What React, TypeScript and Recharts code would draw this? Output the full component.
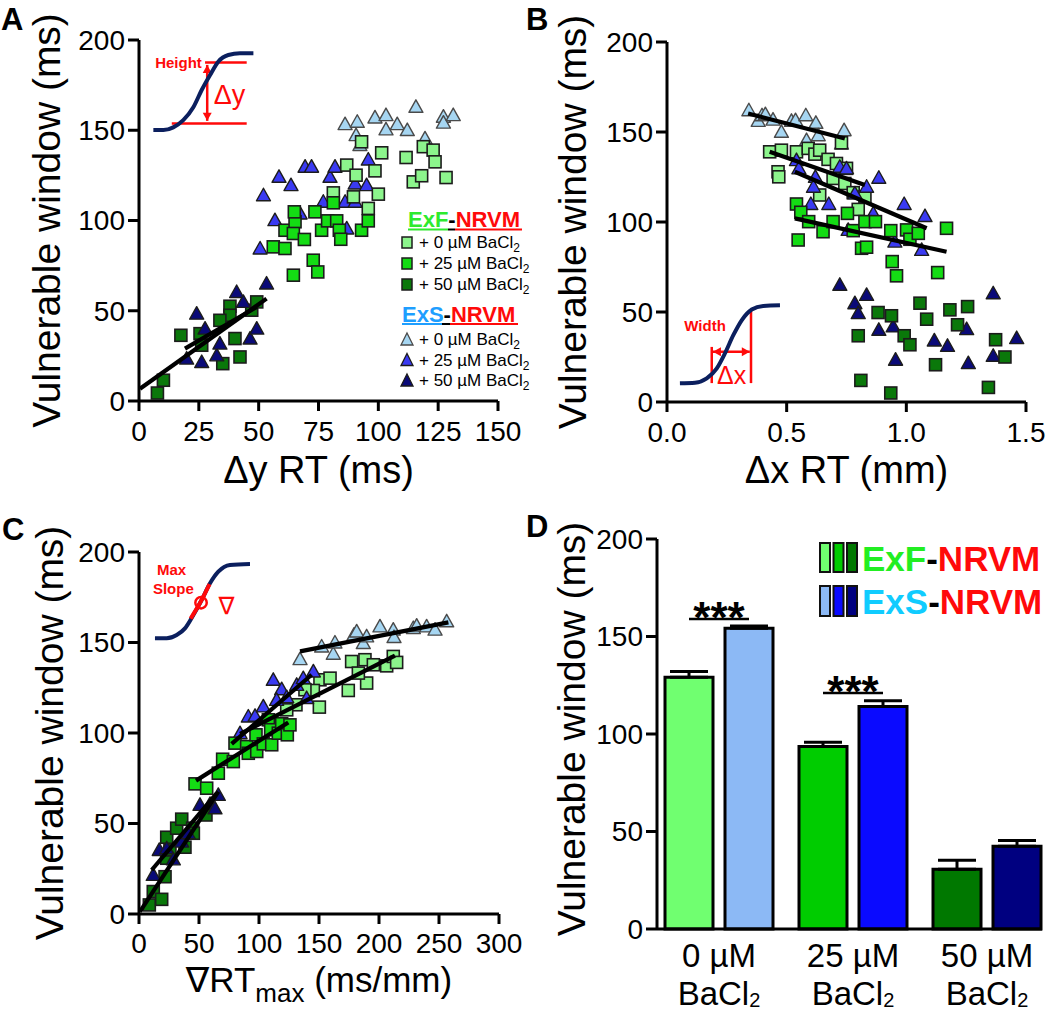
import React from 'react';
import {
  ScatterChart, Scatter, XAxis, YAxis, ReferenceLine, ReferenceDot,
  BarChart, Bar, ErrorBar, Cell, LabelList,
} from 'recharts';

const FONT = '"Liberation Sans", Arial, "DejaVu Sans", sans-serif';
type P = [number, number];

// ---------- colours ----------
const SQ_EXF0 = '#8CF58C';
const SQ_EXF25 = '#14DC14';
const SQ_EXF50 = '#0A780A';
const TR_EXS0 = '#A6D6F2';
const TR_EXS25 = '#3A3AF2';
const TR_EXS50 = '#0A0A78';
const BAR_EXF = ['#70FF70', '#00CC00', '#007800'];
const BAR_EXS = ['#8CB9F5', '#0A0AFF', '#000080'];
const CURVE = '#0B1F5E';
const RED = '#FF0A0A';

// ---------- panel A: vulnerable window vs Δy RT ----------
const aExS0: P[] = [[86.1,153.4],[91.2,154.7],[90.7,147.3],[92.3,141.8],[98.6,157.1],[103.2,158.4],[103.2,150.5],[107.9,153.4],[112.1,150.1],[115.7,163.0],[119.5,145.5],[127.2,157.5],[127.2,154.2],[131.3,158.4]];
const aExS25: P[] = [[52.0,114.0],[58.5,124.2],[63.5,119.6],[56.8,100.2],[50.6,84.5],[69.4,129.8],[72.1,129.8],[79.8,124.2],[81.9,129.8],[90.3,120.5],[95.8,133.8],[95.1,119.6],[86.1,110.4],[90.3,110.4],[86.8,95.6],[77.0,110.4],[67.3,103.9]];
const aExS50: P[] = [[24.1,48.4],[19.9,23.5],[26.2,21.6],[27.6,40.1],[32.5,25.3],[33.8,31.8],[40.8,60.4],[43.6,54.9],[46.4,34.6],[49.2,40.1],[53.3,65.1]];
const aExF0: P[] = [[93.0,143.6],[86.8,130.7],[90.7,125.1],[98.6,127.5],[101.4,137.5],[100.0,114.6],[95.8,106.7],[81.2,115.3],[111.6,134.9],[114.6,121.4],[118.1,124.8],[118.8,140.9],[122.9,139.0],[123.7,132.5],[128.3,123.8],[89.6,113.1]];
const aExF25: P[] = [[56.1,85.4],[61.0,84.5],[61.0,94.6],[65.2,99.3],[64.9,104.8],[64.5,92.8],[69.1,89.5],[64.5,69.7],[72.8,78.0],[74.7,71.5],[73.5,104.8],[76.3,94.6],[78.8,99.8],[81.2,109.8],[82.6,99.8],[83.7,94.6],[84.3,89.6],[93.0,94.6],[95.8,99.8]];
const aExF50: P[] = [[7.7,4.4],[10.2,11.5],[17.5,36.4],[25.5,37.3],[26.2,30.9],[38.0,52.5],[38.0,47.5],[40.1,34.6],[42.2,24.4],[35.0,20.7],[47.1,50.3],[49.2,54.9],[33.8,44.7]];
const aFits: P[][] = [[[0.4,6.8],[53.3,56.7]], [[19.2,29.0],[49.2,52.1]]];
const aInsetCurve: P[] = [[6.0,150.1],[10.2,150.1],[14.3,151.6],[18.5,155.6],[22.7,162.7],[26.2,172.3],[29.7,180.6],[33.1,188.0],[37.3,191.7],[42.2,192.6],[47.8,192.6]];
const aInsetLines: P[][] = [[[27.6,187.6],[45.0,187.6]], [[13.7,153.8],[45.0,153.8]]];
const aInsetArrow: P[] = [[28.5,186.2],[28.5,155.2]];

// ---------- panel B: vulnerable window vs Δx RT ----------
const bExS0: P[] = [[0.342,162.1],[0.381,156.2],[0.397,159.3],[0.411,159.9],[0.443,156.9],[0.478,150.1],[0.520,156.2],[0.537,156.6],[0.580,159.3],[0.622,155.1],[0.632,148.2],[0.583,145.5],[0.740,151.0],[0.729,143.6]];
const bExS25: P[] = [[0.541,134.4],[0.551,129.8],[0.620,125.1],[0.612,119.6],[0.601,110.0],[0.676,110.0],[0.722,130.7],[0.750,129.8],[0.785,115.9],[0.834,119.6],[0.862,104.8],[0.885,124.6],[0.991,110.0],[1.078,103.3],[0.952,89.1],[1.064,84.5],[0.757,95.6]];
const bExS50: P[] = [[0.722,65.1],[0.785,54.9],[0.799,49.4],[0.834,59.5],[0.885,40.1],[0.945,42.0],[0.955,23.5],[1.117,34.2],[1.172,31.2],[1.252,40.5],[1.259,21.6],[1.363,60.4],[1.363,25.7],[1.461,35.5]];
const bExF0: P[] = [[0.429,139.0],[0.464,127.9],[0.467,125.1],[0.478,139.9],[0.541,139.0],[0.590,140.9],[0.618,137.7],[0.638,139.9],[0.673,134.8],[0.708,132.5],[0.750,129.8],[0.694,124.2],[0.743,121.4],[0.778,116.3],[0.827,114.0],[0.638,115.0],[0.799,107.0],[0.729,144.0]];
const bExF25: P[] = [[0.541,110.0],[0.559,105.4],[0.548,90.0],[0.592,100.2],[0.652,94.6],[0.694,100.2],[0.754,104.8],[0.778,95.2],[0.813,85.4],[0.834,86.0],[0.827,100.2],[0.871,100.2],[0.935,95.2],[1.001,95.6],[1.015,90.4],[1.050,93.7],[1.168,96.5],[0.941,78.0],[0.959,70.1],[1.131,71.9]];
const bExF50: P[] = [[0.799,36.8],[0.810,12.0],[0.882,49.7],[0.938,47.9],[0.991,36.8],[1.015,31.8],[1.057,54.9],[1.085,46.0],[1.122,20.7],[1.182,51.2],[1.214,42.9],[1.256,53.0],[1.343,8.1],[1.373,34.6],[1.412,25.0],[0.935,5.0]];
const bFits: P[][] = [[[0.339,160.3],[0.743,146.4]], [[0.429,139.0],[0.827,120.5]], [[0.534,127.9],[1.085,96.5]], [[0.534,102.0],[1.168,83.5]]];
const bInsetCurve: P[] = [[0.054,10.4],[0.117,10.7],[0.166,13.1],[0.208,18.7],[0.242,27.0],[0.277,37.1],[0.312,45.4],[0.354,51.4],[0.402,53.4],[0.472,53.7]];
const bInsetLines: P[][] = [[[0.187,10.5],[0.187,30.6]], [[0.351,10.5],[0.351,51.0]]];
const bInsetArrow: P[] = [[0.192,27.9],[0.346,27.9]];
const bXTicks = [0, 0.5, 1.0, 1.5];

// ---------- panel C: vulnerable window vs max gradient ----------
const cExS0: P[] = [[134.2,140.8],[152.2,147.8],[161.9,143.8],[163.3,150.0],[179.2,154.3],[181.4,156.1],[186.9,149.7],[189.7,153.4],[200.8,158.9],[211.9,157.1],[212.5,153.0],[228.6,158.0],[231.4,159.3],[239.7,158.9],[246.7,157.1],[256.4,161.7]];
const cExS25: P[] = [[84.2,99.9],[91.1,109.1],[96.7,109.5],[103.6,114.7],[111.9,129.4],[118.9,124.2],[114.7,118.3],[123.1,119.8],[131.4,126.6],[136.9,130.3],[145.3,134.0],[139.7,119.3]];
const cExS50: P[] = [[11.9,21.6],[16.9,35.4],[23.1,36.3],[28.6,30.2],[35.6,40.0],[41.1,44.6],[50.8,60.3],[59.2,60.8],[63.3,58.4],[66.1,65.8]];
const cExF0: P[] = [[174.4,123.5],[177.2,139.5],[188.3,140.5],[189.7,127.6],[195.3,137.7],[206.4,137.1],[211.9,142.3],[214.7,139.0],[150.8,129.4],[159.2,130.3],[150.3,114.3],[145.3,123.5],[138.3,123.9],[130.8,115.6],[123.1,112.8],[182.8,133.1]];
const cExF25: P[] = [[46.7,71.9],[56.4,69.5],[66.1,77.8],[69.7,85.5],[78.6,84.2],[80.0,94.4],[89.7,92.5],[91.1,88.8],[98.1,89.8],[97.5,99.0],[103.6,94.0],[107.8,107.3],[109.7,101.8],[110.6,93.5],[116.1,99.9],[118.9,105.1],[123.6,99.0],[125.8,104.5]];
const cExF50: P[] = [[8.6,5.0],[11.9,12.4],[18.9,8.1],[21.7,20.6],[23.1,42.4],[23.1,30.8],[25.8,35.4],[31.4,47.4],[35.6,52.4],[38.3,36.9],[44.7,47.4],[45.3,44.6],[55.8,54.7]];
const cFits: P[][] = [[[0.8,1.3],[66.1,67.6]], [[10.6,24.3],[64.7,66.7]], [[47.5,73.7],[124.4,105.8]], [[77.2,94.0],[143.9,132.2]], [[84.2,99.5],[213.3,142.7]], [[134.2,145.1],[257.8,161.1]]];
const cInsetCurve: P[] = [[13.3,152.3],[23.1,152.3],[31.4,154.1],[38.3,157.8],[45.3,165.2],[52.2,173.5],[59.2,182.7],[66.1,189.1],[75.8,192.8],[92.5,193.4]];
const cInsetRed: P[] = [[43.0,163.2],[52.2,173.5],[58.8,182.2]];
const cInsetDot: P = [51.7, 172.0];

// ---------- panel D: bar chart ----------
const dCats = ['0 µM', '25 µM', '50 µM'];
const dExfMean = [129.1, 93.6, 30.7];
const dExfErr = [2.9, 2.2, 4.5];
const dExsMean = [154.2, 114.1, 42.4];
const dExsErr = [1.2, 2.9, 3.0];
const dSig: (number | null)[] = [159, 121, null];

const Y_TICKS = [0, 50, 100, 150, 200];
const axisStyle = { stroke: '#000', strokeWidth: 3 };
const tickStyle = { fontSize: 28, fill: '#000', fontFamily: FONT };

const toXY = (d: P[]) => d.map(([x, y]) => ({ x, y }));

const sqShape = (fill: string) => (p: any) => (
  <rect x={p.cx - 6} y={p.cy - 6} width={12} height={12} fill={fill} stroke="#1c1c1c" strokeWidth={1.6} />
);
const triShape = (fill: string, stroke = '#1c1c1c') => (p: any) => (
  <polygon
    points={`${p.cx},${p.cy - 7} ${p.cx + 7},${p.cy + 5.5} ${p.cx - 7},${p.cy + 5.5}`}
    fill={fill} stroke={stroke} strokeWidth={1.4} strokeLinejoin="round"
  />
);
const noShape = () => <g />;

const arrowShape = (p: any) => {
  const x1 = Number(p.x1), y1 = Number(p.y1), x2 = Number(p.x2), y2 = Number(p.y2);
  const a = Math.atan2(y2 - y1, x2 - x1);
  const L = 8, W = 4.5;
  const head = (x: number, y: number, ang: number) => {
    const bx = x - L * Math.cos(ang), by = y - L * Math.sin(ang);
    return `${x},${y} ${bx - W * Math.sin(ang)},${by + W * Math.cos(ang)} ${bx + W * Math.sin(ang)},${by - W * Math.cos(ang)}`;
  };
  return (
    <g>
      <line x1={x1} y1={y1} x2={x2} y2={y2} stroke={RED} strokeWidth={2.5} />
      <polygon points={head(x2, y2, a)} fill={RED} />
      <polygon points={head(x1, y1, a + Math.PI)} fill={RED} />
    </g>
  );
};

const fitShape = (p: any) => (
  <line x1={p.x1} y1={p.y1} x2={p.x2} y2={p.y2} stroke="#000" strokeWidth={4.2} strokeLinecap="butt" />
);

const textShape = (txt: string, size: number, bold = false) => (p: any) => (
  <text x={p.cx} y={p.cy} textAnchor="middle" dominantBaseline="central" fontSize={size}
    fontWeight={bold ? 'bold' : 'normal'} fill={RED} fontFamily={FONT}>{txt}</text>
);

const yTitle = (bx: number, dy = 0) => (props: any) => {
  const vb = props.viewBox || {};
  const cy = vb.y + vb.height / 2 + dy;
  return (
    <text x={bx} y={cy} transform={`rotate(-90 ${bx} ${cy})`} textAnchor="middle" fontSize={39}
      fill="#000" fontFamily={FONT}>Vulnerable window (ms)</text>
  );
};

const xTitle = (content: React.ReactNode, off: number, size = 38) => (props: any) => {
  const vb = props.viewBox || {};
  return (
    <text x={vb.x + vb.width / 2} y={vb.y + off} textAnchor="middle" fontSize={size} fill="#000"
      fontFamily={FONT}>{content}</text>
  );
};

type Ser = { d: P[]; shape: any; key: string };

const renderSeries = (list: Ser[]) =>
  list.map((s) => (
    <Scatter key={s.key} data={toXY(s.d)} shape={s.shape} isAnimationActive={false} />
  ));

const renderFits = (fits: P[][], prefix: string) =>
  fits.map((f, i) => (
    <ReferenceLine key={`${prefix}${i}`} segment={[{ x: f[0][0], y: f[0][1] }, { x: f[1][0], y: f[1][1] }]}
      stroke="#000" strokeWidth={4.2} shape={fitShape} zIndex={1000} />
  ));

const curveSeries = (d: P[], key: string, color: string, w = 4) => (
  <Scatter key={key} data={toXY(d)} shape={noShape} line={{ stroke: color, strokeWidth: w }}
    lineJointType="monotoneX" isAnimationActive={false} />
);

const yAxisEl = (bx: number) => (
  <YAxis type="number" dataKey="y" domain={[0, 200]} ticks={Y_TICKS} width={100} interval={0}
    axisLine={axisStyle} tickLine={axisStyle} tick={tickStyle} tickSize={11} tickMargin={3}
    label={yTitle(bx)} />
);

function PanelA() {
  return (
    <ScatterChart width={525} height={500} margin={{ top: 40, right: 27, bottom: 0, left: 39 }}>
      <XAxis type="number" dataKey="x" domain={[0, 150]} ticks={[0, 25, 50, 75, 100, 125, 150]} height={99}
        interval={0} axisLine={axisStyle} tickLine={axisStyle} tick={tickStyle} tickSize={10} tickMargin={10}
        label={xTitle('Δy RT (ms)', 82)} />
      {yAxisEl(60)}
      {curveSeries(aInsetCurve, 'ac', CURVE)}
      {aInsetLines.map((l, i) => (
        <ReferenceLine key={`al${i}`} segment={[{ x: l[0][0], y: l[0][1] }, { x: l[1][0], y: l[1][1] }]} stroke={RED} strokeWidth={2.5} />
      ))}
      <ReferenceLine segment={[{ x: aInsetArrow[0][0], y: aInsetArrow[0][1] }, { x: aInsetArrow[1][0], y: aInsetArrow[1][1] }]} shape={arrowShape} stroke={RED} />
      <ReferenceDot x={16.5} y={187.3} r={0} shape={textShape('Height', 15, true)} />
      <ReferenceDot x={37.8} y={169.5} r={0} shape={textShape('Δy', 27)} />
      {renderSeries([
        { d: aExS0, shape: triShape(TR_EXS0, '#4a4a4a'), key: 's0' },
        { d: aExS25, shape: triShape(TR_EXS25), key: 's25' },
        { d: aExF0, shape: sqShape(SQ_EXF0), key: 'f0' },
        { d: aExF25, shape: sqShape(SQ_EXF25), key: 'f25' },
        { d: aExF50, shape: sqShape(SQ_EXF50), key: 'f50' },
        { d: aExS50, shape: triShape(TR_EXS50), key: 's50' },
      ])}
      {renderFits(aFits, 'af')}
    </ScatterChart>
  );
}

function PanelB() {
  return (
    <ScatterChart width={525} height={500} margin={{ top: 42, right: 24, bottom: 0, left: 42 }}>
      <XAxis type="number" dataKey="x" domain={[0, 1.5]} ticks={bXTicks} height={98} interval={0}
        tickFormatter={(v: number) => v.toFixed(1)}
        axisLine={axisStyle} tickLine={axisStyle} tick={tickStyle} tickSize={10} tickMargin={10}
        label={xTitle('Δx RT (mm)', 81)} />
      {yAxisEl(61)}
      {curveSeries(bInsetCurve, 'bc', CURVE)}
      {bInsetLines.map((l, i) => (
        <ReferenceLine key={`bl${i}`} segment={[{ x: l[0][0], y: l[0][1] }, { x: l[1][0], y: l[1][1] }]} stroke={RED} strokeWidth={2.5} />
      ))}
      <ReferenceLine segment={[{ x: bInsetArrow[0][0], y: bInsetArrow[0][1] }, { x: bInsetArrow[1][0], y: bInsetArrow[1][1] }]} shape={arrowShape} stroke={RED} />
      <ReferenceDot x={0.159} y={42.7} r={0} shape={textShape('Width', 15, true)} />
      <ReferenceDot x={0.270} y={15.0} r={0} shape={textShape('Δx', 25)} />
      {renderSeries([
        { d: bExS0, shape: triShape(TR_EXS0, '#4a4a4a'), key: 's0' },
        { d: bExF0, shape: sqShape(SQ_EXF0), key: 'f0' },
        { d: bExS25, shape: triShape(TR_EXS25), key: 's25' },
        { d: bExF25, shape: sqShape(SQ_EXF25), key: 'f25' },
        { d: bExS50, shape: triShape(TR_EXS50), key: 's50' },
        { d: bExF50, shape: sqShape(SQ_EXF50), key: 'f50' },
      ])}
      {renderFits(bFits, 'bf')}
    </ScatterChart>
  );
}

function PanelC() {
  const title = (
    <>
      <tspan>∇RT</tspan>
      <tspan fontSize={26} dy={10}>max</tspan>
      <tspan dy={-10}> (ms/mm)</tspan>
    </>
  );
  return (
    <ScatterChart width={525} height={511} margin={{ top: 52, right: 26, bottom: 0, left: 39 }}>
      <XAxis type="number" dataKey="x" domain={[0, 300]} ticks={[0, 50, 100, 150, 200, 250, 300]} height={97}
        interval={0} axisLine={axisStyle} tickLine={axisStyle} tick={tickStyle} tickSize={10} tickMargin={9}
        label={xTitle(title, 78, 35)} />
      {yAxisEl(63)}
      {curveSeries(cInsetCurve, 'cc', CURVE)}
      {curveSeries(cInsetRed, 'cr', RED, 4)}
      <ReferenceDot x={cInsetDot[0]} y={cInsetDot[1]} r={5.7} fill="none" stroke={RED} strokeWidth={2.5} />
      <ReferenceDot x={27.2} y={190.4} r={0} shape={textShape('Max', 15, true)} />
      <ReferenceDot x={28.6} y={180.0} r={0} shape={textShape('Slope', 15, true)} />
      <ReferenceDot x={73.0} y={170.7} r={0} shape={textShape('∇', 24)} />
      {renderSeries([
        { d: cExS0, shape: triShape(TR_EXS0, '#4a4a4a'), key: 's0' },
        { d: cExF0, shape: sqShape(SQ_EXF0), key: 'f0' },
        { d: cExS25, shape: triShape(TR_EXS25), key: 's25' },
        { d: cExF25, shape: sqShape(SQ_EXF25), key: 'f25' },
        { d: cExF50, shape: sqShape(SQ_EXF50), key: 'f50' },
        { d: cExS50, shape: triShape(TR_EXS50), key: 's50' },
      ])}
      {renderFits(cFits, 'cf')}
    </ScatterChart>
  );
}

const dRows = dCats.map((cat, i) => ({
  cat,
  exf: dExfMean[i],
  exs: dExsMean[i],
  exfErr: [0, dExfErr[i]],
  exsErr: [0, dExsErr[i]],
}));

const DTick = (props: any) => {
  const { x, y, payload } = props;
  return (
    <g>
      <text x={x} y={y + 38} textAnchor="middle" fontSize={33} fontFamily={FONT} fill="#000">{payload.value}</text>
      <text x={x} y={y + 76} textAnchor="middle" fontSize={33} fontFamily={FONT} fill="#000">
        BaCl<tspan fontSize={20} dy={2}>2</tspan>
      </text>
    </g>
  );
};

const BAR_GAP = 12;
const sigContent = (props: any) => {
  const i = props.index;
  const s = dSig[i];
  if (s == null) return null;
  const vb = props.viewBox || {};
  const x = Number(vb.x ?? props.x), y = Number(vb.y ?? props.y);
  const w = Number(vb.width ?? props.width), h = Number(vb.height ?? props.height);
  const v = dExsMean[i];
  const k = h / v;
  const ly = y + h - s * k;
  const x1 = x - BAR_GAP - w / 2, x2 = x + w / 2;
  return (
    <g>
      <line x1={x1} y1={ly} x2={x2} y2={ly} stroke="#000" strokeWidth={2.5} />
      <text x={(x1 + x2) / 2} y={ly + 14} textAnchor="middle" fontSize={44} fontWeight="bold"
        fontFamily={FONT} fill="#000">***</text>
    </g>
  );
};

function PanelD() {
  return (
    <BarChart width={525} height={511} data={dRows} margin={{ top: 39, right: 8, bottom: 0, left: 32 }}
      barSize={48} barGap={BAR_GAP}>
      <XAxis dataKey="cat" padding={{ left: -5, right: -12 }} tickLine={false} axisLine={axisStyle}
        tick={<DTick />} tickSize={0} tickMargin={0} height={82} interval={0} />
      <YAxis type="number" domain={[0, 200]} ticks={Y_TICKS} width={100} interval={0}
        axisLine={axisStyle} tickLine={axisStyle} tick={tickStyle} tickSize={11} tickMargin={3}
        label={yTitle(60, -5)} />
      <Bar dataKey="exf" stroke="#000" strokeWidth={3} isAnimationActive={false}>
        {dRows.map((_, i) => <Cell key={`f${i}`} fill={BAR_EXF[i]} stroke="#000" strokeWidth={3} />)}
        <ErrorBar dataKey="exfErr" width={19} strokeWidth={3} stroke="#000" />
      </Bar>
      <Bar dataKey="exs" stroke="#000" strokeWidth={3} isAnimationActive={false}>
        {dRows.map((_, i) => <Cell key={`s${i}`} fill={BAR_EXS[i]} stroke="#000" strokeWidth={3} />)}
        <ErrorBar dataKey="exsErr" width={19} strokeWidth={3} stroke="#000" />
        <LabelList dataKey="exs" content={sigContent} />
      </Bar>
    </BarChart>
  );
}

// ---------- legends & panel letters ----------
const legendARowsF = [
  { label: '+ 0 µM BaCl', fill: SQ_EXF0 },
  { label: '+ 25 µM BaCl', fill: SQ_EXF25 },
  { label: '+ 50 µM BaCl', fill: SQ_EXF50 },
];
const legendARowsS = [
  { label: '+ 0 µM BaCl', fill: TR_EXS0 },
  { label: '+ 25 µM BaCl', fill: TR_EXS25 },
  { label: '+ 50 µM BaCl', fill: TR_EXS50 },
];

function Overlay() {
  const letter = (t: string, x: number, y: number) => (
    <text x={x} y={y} fontSize={31} fontWeight="bold" fontFamily={FONT} fill="#000">{t}</text>
  );
  const row = (label: string, y: number) => (
    <text x={419} y={y} fontSize={17} fontFamily={FONT} fill="#000">
      {label}<tspan fontSize={12} dy={4}>2</tspan>
    </text>
  );
  return (
    <svg width={1050} height={1011} style={{ position: 'absolute', left: 0, top: 0, pointerEvents: 'none' }}>
      {letter('A', 1, 30)}
      {letter('B', 526, 30)}
      {letter('C', 2, 540)}
      {letter('D', 526, 537)}

      {/* legend A */}
      <text x={408} y={227} fontSize={22} fontWeight="bold" fontFamily={FONT}>
        <tspan fill="#2EEA2E">ExF</tspan><tspan fill="#000">-</tspan><tspan fill={RED}>NRVM</tspan>
      </text>
      <line x1={408} y1={229.5} x2={448} y2={229.5} stroke="#2EEA2E" strokeWidth={2} />
      <line x1={448} y1={229.5} x2={455} y2={229.5} stroke="#000" strokeWidth={2} />
      <line x1={455} y1={229.5} x2={522} y2={229.5} stroke={RED} strokeWidth={2} />
      {legendARowsF.map((r, i) => (
        <g key={`lf${i}`}>
          <rect x={402} y={237 + i * 21} width={10} height={11} fill={r.fill} stroke="#1c1c1c" strokeWidth={1.5} />
          {row(r.label, 248 + i * 21)}
        </g>
      ))}
      <text x={402} y={321.5} fontSize={22} fontWeight="bold" fontFamily={FONT}>
        <tspan fill="#1E9EFF">ExS</tspan><tspan fill="#000">-</tspan><tspan fill={RED}>NRVM</tspan>
      </text>
      <line x1={402} y1={324} x2={442} y2={324} stroke="#1E9EFF" strokeWidth={2} />
      <line x1={442} y1={324} x2={450} y2={324} stroke="#000" strokeWidth={2} />
      <line x1={450} y1={324} x2={518} y2={324} stroke={RED} strokeWidth={2} />
      {legendARowsS.map((r, i) => {
        const by = 345 + i * 20.5;
        return (
          <g key={`ls${i}`}>
            <polygon points={`${407},${by - 12} ${413},${by} ${401},${by}`} fill={r.fill}
              stroke={i === 0 ? '#4a4a4a' : '#1c1c1c'} strokeWidth={1.3} />
            {row(r.label, by)}
          </g>
        );
      })}

      {/* legend D */}
      {BAR_EXF.map((c, i) => (
        <rect key={`df${i}`} x={820 + i * 13.5} y={543} width={10} height={29} fill={c} stroke="#111" strokeWidth={2} />
      ))}
      {BAR_EXS.map((c, i) => (
        <rect key={`ds${i}`} x={820 + i * 13.5} y={586} width={10} height={30} fill={c} stroke="#111" strokeWidth={2} />
      ))}
      <text x={862} y={571} fontSize={35} fontWeight="bold" fontFamily={FONT}>
        <tspan fill="#22EE22">ExF</tspan><tspan fill="#000">-</tspan><tspan fill={RED}>NRVM</tspan>
      </text>
      <text x={862} y={614} fontSize={35} fontWeight="bold" fontFamily={FONT}>
        <tspan fill="#10CCFF">ExS</tspan><tspan fill="#000">-</tspan><tspan fill={RED}>NRVM</tspan>
      </text>
    </svg>
  );
}

export default function App() {
  return (
    <div style={{ position: 'absolute', left: 0, top: 0, width: 1050, height: 1011, background: '#fff', fontFamily: FONT }}>
      <div style={{ position: 'absolute', left: 0, top: 0 }}><PanelA /></div>
      <div style={{ position: 'absolute', left: 525, top: 0 }}><PanelB /></div>
      <div style={{ position: 'absolute', left: 0, top: 500 }}><PanelC /></div>
      <div style={{ position: 'absolute', left: 525, top: 500 }}><PanelD /></div>
      <Overlay />
    </div>
  );
}
